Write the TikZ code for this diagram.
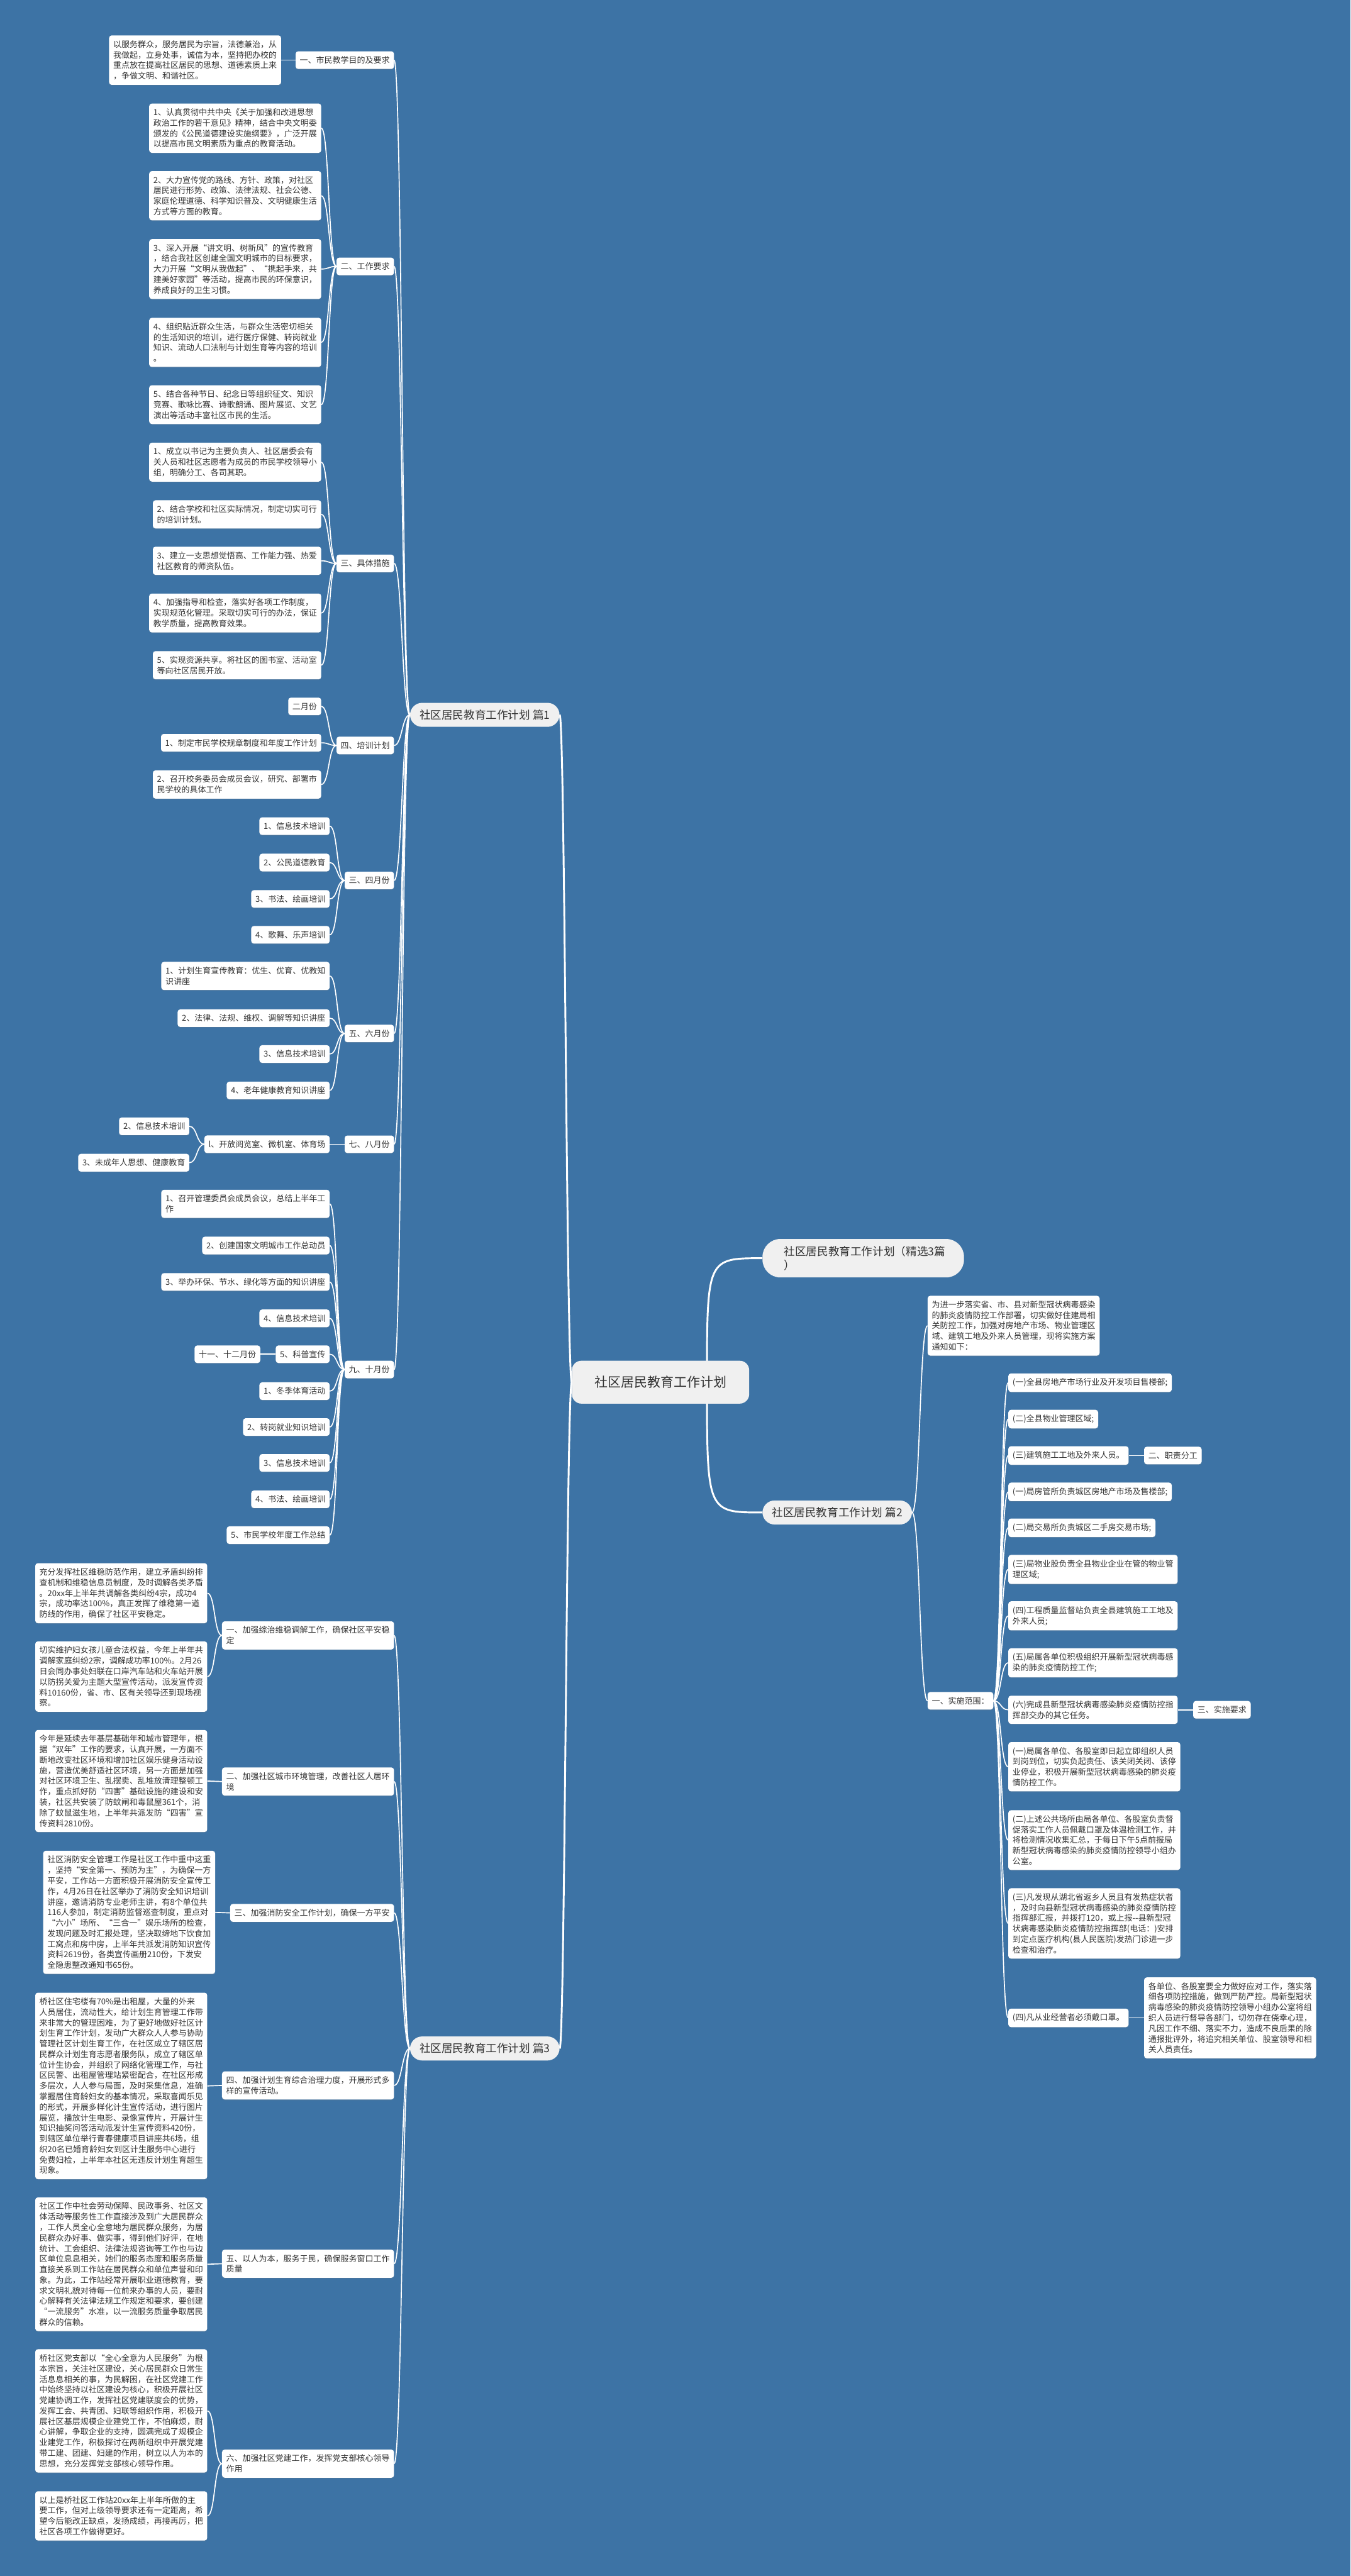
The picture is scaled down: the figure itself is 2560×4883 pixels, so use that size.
\documentclass[tikz,border=0pt]{standalone}
\usepackage{fontspec}
\usepackage{tikz}
\usetikzlibrary{positioning,shadows}
\newfontfamily\cjk{Noto Sans CJK SC}
\definecolor{azul}{HTML}{3D73A5}
\definecolor{cinza}{HTML}{F0F0F0}
\definecolor{texto}{HTML}{333333}
\newcommand{\fonte}{\cjk\fontsize{15.5}{20}\selectfont}
\newcommand{\fontetema}{\cjk\fontsize{21}{27}\selectfont}
\newcommand{\fontecentro}{\cjk\fontsize{25}{30}\selectfont}
\pgfdeclarelayer{fundo}
\pgfdeclarelayer{linhas}
\pgfsetlayers{fundo,linhas,main}
\tikzstyle{caixa}=[rectangle, rounded corners=5pt, fill=white, text=texto, font=\fonte, align=left, inner xsep=8pt, inner ysep=9.5pt, drop shadow={shadow xshift=0pt, shadow yshift=-1.5pt, opacity=0.2}]
\tikzstyle{tema}=[rectangle, rounded corners=23pt, fill=cinza, text=texto, font=\fontetema, align=left, inner xsep=18pt, inner ysep=13pt]
\tikzstyle{centro}=[rectangle, rounded corners=18pt, fill=cinza, text=texto, font=\fontecentro, inner xsep=43pt, inner ysep=29pt]
\tikzstyle{ligacao}=[draw=white, line width=2pt]
\tikzstyle{tronco}=[draw=white, line width=3.5pt]

\begin{document}
\begin{tikzpicture}[x=1pt, y=-1pt]
\useasboundingbox (0,0) rectangle (2560,4883);
\begin{pgfonlayer}{fundo}
\fill[azul] (0,0) rectangle (2560,4883);
\end{pgfonlayer}

% raiz e temas
\node[centro] (raiz) at (1252,2620) {社区居民教育工作计划};
\node[tema, anchor=west] (p1) at (777,1355) {社区居民教育工作计划 篇1};
\node[tema, anchor=west] (p3) at (777,3883) {社区居民教育工作计划 篇3};
\node[tema, anchor=west, text width=300pt, rounded corners=34pt, inner xsep=41pt] (pc) at (1445,2385) {社区居民教育工作计划（精选3篇\\）};
\node[tema, anchor=west] (p2) at (1445,2867) {社区居民教育工作计划 篇2};

%篇1
\node[caixa, anchor=east] (l1) at (747,114) {一、市民教学目的及要求};
\node[caixa, anchor=east] (a1) at (533,114) {以服务群众，服务居民为宗旨，法德兼治，从\\我做起，立身处事，诚信为本，坚持把办校的\\重点放在提高社区居民的思想、道德素质上来\\，争做文明、和谐社区。};

\node[caixa, anchor=east] (l2) at (747,505) {二、工作要求};
\node[caixa, anchor=east] (b1) at (609,243) {1、认真贯彻中共中央《关于加强和改进思想\\政治工作的若干意见》精神，结合中央文明委\\颁发的《公民道德建设实施纲要》，广泛开展\\以提高市民文明素质为重点的教育活动。};
\node[caixa, anchor=east] (b2) at (609,371) {2、大力宣传党的路线、方针、政策，对社区\\居民进行形势、政策、法律法规、社会公德、\\家庭伦理道德、科学知识普及、文明健康生活\\方式等方面的教育。};
\node[caixa, anchor=east] (b3) at (609,510) {3、深入开展“讲文明、树新风”的宣传教育\\，结合我社区创建全国文明城市的目标要求，\\大力开展“文明从我做起”、“携起手来，共\\建美好家园”等活动，提高市民的环保意识，\\养成良好的卫生习惯。};
\node[caixa, anchor=east] (b4) at (609,649) {4、组织贴近群众生活，与群众生活密切相关\\的生活知识的培训，进行医疗保健、转岗就业\\知识、流动人口法制与计划生育等内容的培训\\。};
\node[caixa, anchor=east] (b5) at (609,767) {5、结合各种节日、纪念日等组织征文、知识\\竞赛、歌咏比赛、诗歌朗诵、图片展览、文艺\\演出等活动丰富社区市民的生活。};

\node[caixa, anchor=east] (l3) at (747,1068) {三、具体措施};
\node[caixa, anchor=east] (c1) at (609,876) {1、成立以书记为主要负责人、社区居委会有\\关人员和社区志愿者为成员的市民学校领导小\\组，明确分工、各司其职。};
\node[caixa, anchor=east] (c2) at (609,975) {2、结合学校和社区实际情况，制定切实可行\\的培训计划。};
\node[caixa, anchor=east] (c3) at (609,1063) {3、建立一支思想觉悟高、工作能力强、热爱\\社区教育的师资队伍。};
\node[caixa, anchor=east] (c4) at (609,1162) {4、加强指导和检查，落实好各项工作制度，\\实现规范化管理。采取切实可行的办法，保证\\教学质量，提高教育效果。};
\node[caixa, anchor=east] (c5) at (609,1261) {5、实现资源共享。将社区的图书室、活动室\\等向社区居民开放。};

\node[caixa, anchor=east] (l4) at (747,1413) {四、培训计划};
\node[caixa, anchor=east] (d1) at (609,1339) {二月份};
\node[caixa, anchor=east] (d2) at (609,1408) {1、制定市民学校规章制度和年度工作计划};
\node[caixa, anchor=east] (d3) at (609,1487) {2、召开校务委员会成员会议，研究、部署市\\民学校的具体工作};

\node[caixa, anchor=east] (l5) at (747,1669) {三、四月份};
\node[caixa, anchor=east] (e1) at (625,1566) {1、信息技术培训};
\node[caixa, anchor=east] (e2) at (625,1635) {2、公民道德教育};
\node[caixa, anchor=east] (e3) at (625,1704) {3、书法、绘画培训};
\node[caixa, anchor=east] (e4) at (625,1772) {4、歌舞、乐声培训};

\node[caixa, anchor=east] (l6) at (747,1959) {五、六月份};
\node[caixa, anchor=east] (f1) at (625,1850) {1、计划生育宣传教育：优生、优育、优教知\\识讲座};
\node[caixa, anchor=east] (f2) at (625,1930) {2、法律、法规、维权、调解等知识讲座};
\node[caixa, anchor=east] (f3) at (625,1998) {3、信息技术培训};
\node[caixa, anchor=east] (f4) at (625,2067) {4、老年健康教育知识讲座};

\node[caixa, anchor=east] (l7) at (747,2169) {七、八月份};
\node[caixa, anchor=east] (g1) at (625,2169) {l、开放阅览室、微机室、体育场};
\node[caixa, anchor=east] (g2) at (359,2135) {2、信息技术培训};
\node[caixa, anchor=east] (g3) at (359,2204) {3、未成年人思想、健康教育};

\node[caixa, anchor=east] (l8) at (747,2596) {九、十月份};
\node[caixa, anchor=east] (h1) at (625,2282) {1、召开管理委员会成员会议，总结上半年工\\作};
\node[caixa, anchor=east] (h2) at (625,2361) {2、创建国家文明城市工作总动员};
\node[caixa, anchor=east] (h3) at (625,2430) {3、举办环保、节水、绿化等方面的知识讲座};
\node[caixa, anchor=east] (h4) at (625,2499) {4、信息技术培训};
\node[caixa, anchor=east] (h5) at (625,2567) {5、科普宣传};
\node[caixa, left=29pt of h5] (h11) {十一、十二月份};
\node[caixa, anchor=east] (h6) at (625,2637) {1、冬季体育活动};
\node[caixa, anchor=east] (h7) at (625,2705) {2、转岗就业知识培训};
\node[caixa, anchor=east] (h8) at (625,2773) {3、信息技术培训};
\node[caixa, anchor=east] (h9) at (625,2842) {4、书法、绘画培训};
\node[caixa, anchor=east] (h10) at (625,2910) {5、市民学校年度工作总结};

% 篇2
\node[caixa, anchor=west] (r0) at (1758,2513) {为进一步落实省、市、县对新型冠状病毒感染\\的肺炎疫情防控工作部署，切实做好住建局相\\关防控工作，加强对房地产市场、物业管理区\\域、建筑工地及外来人员管理，现将实施方案\\通知如下：};
\node[caixa, anchor=west] (s1) at (1758,3224) {一、实施范围：};
\node[caixa, anchor=west] (k1) at (1911,2621) {(一)全县房地产市场行业及开发项目售楼部;};
\node[caixa, anchor=west] (k2) at (1911,2690) {(二)全县物业管理区域;};
\node[caixa, anchor=west] (k3) at (1911,2759) {(三)建筑施工工地及外来人员。};
\node[caixa, right=29pt of k3] (kx3) {二、职责分工};
\node[caixa, anchor=west] (k4) at (1911,2828) {(一)局房管所负责城区房地产市场及售楼部;};
\node[caixa, anchor=west] (k5) at (1911,2896) {(二)局交易所负责城区二手房交易市场;};
\node[caixa, anchor=west] (k6) at (1911,2975) {(三)局物业股负责全县物业企业在管的物业管\\理区域;};
\node[caixa, anchor=west] (k7) at (1911,3063) {(四)工程质量监督站负责全县建筑施工工地及\\外来人员;};
\node[caixa, anchor=west] (k8) at (1911,3152) {(五)局属各单位积极组织开展新型冠状病毒感\\染的肺炎疫情防控工作;};
\node[caixa, anchor=west] (k9) at (1911,3241) {(六)完成县新型冠状病毒感染肺炎疫情防控指\\挥部交办的其它任务。};
\node[caixa, right=29pt of k9] (kx9) {三、实施要求};
\node[caixa, anchor=west] (k10) at (1911,3349) {(一)局属各单位、各股室即日起立即组织人员\\到岗到位，切实负起责任、该关闭关闭、该停\\业停业，积极开展新型冠状病毒感染的肺炎疫\\情防控工作。};
\node[caixa, anchor=west] (k11) at (1911,3488) {(二)上述公共场所由局各单位、各股室负责督\\促落实工作人员佩戴口罩及体温检测工作，并\\将检测情况收集汇总，于每日下午5点前报局\\新型冠状病毒感染的肺炎疫情防控领导小组办\\公室。};
\node[caixa, anchor=west] (k12) at (1911,3646) {(三)凡发现从湖北省返乡人员且有发热症状者\\，及时向县新型冠状病毒感染的肺炎疫情防控\\指挥部汇报，并拨打120，或上报-{}-县新型冠\\状病毒感染肺炎疫情防控指挥部(电话：)安排\\到定点医疗机构(县人民医院)发热门诊进一步\\检查和治疗。};
\node[caixa, anchor=west] (k13) at (1911,3825) {(四)凡从业经营者必须戴口罩。};
\node[caixa, right=29pt of k13] (kx13) {各单位、各股室要全力做好应对工作，落实落\\细各项防控措施，做到严防严控。局新型冠状\\病毒感染的肺炎疫情防控领导小组办公室将组\\织人员进行督导各部门，切勿存在侥幸心理，\\凡因工作不细、落实不力，造成不良后果的除\\通报批评外，将追究相关单位、股室领导和相\\关人员责任。};

% 篇3
\node[caixa, anchor=east] (m1) at (747,3100) {一、加强综治维稳调解工作，确保社区平安稳\\定};
\node[caixa, anchor=east] (m1a) at (393,3020) {充分发挥社区维稳防范作用，建立矛盾纠纷排\\查机制和维稳信息员制度，及时调解各类矛盾\\。20xx年上半年共调解各类纠纷4宗，成功4\\宗，成功率达100\%，真正发挥了维稳第一道\\防线的作用，确保了社区平安稳定。};
\node[caixa, anchor=east] (m1b) at (393,3178) {切实维护妇女孩儿童合法权益，今年上半年共\\调解家庭纠纷2宗，调解成功率100\%。2月26\\日会同办事处妇联在口岸汽车站和火车站开展\\以防拐关爱为主题大型宣传活动，派发宣传资\\料10160份，省、市、区有关领导还到现场视\\察。};

\node[caixa, anchor=east] (m2) at (747,3377) {二、加强社区城市环境管理，改善社区人居环\\境};
\node[caixa, anchor=east] (m2a) at (393,3376) {今年是延续去年基层基础年和城市管理年，根\\据“双年”工作的要求，认真开展，一方面不\\断地改变社区环境和增加社区娱乐健身活动设\\施，营造优美舒适社区环境，另一方面是加强\\对社区环境卫生、乱摆卖、乱堆放清理整顿工\\作，重点抓好防“四害”基础设施的建设和安\\装，社区共安装了防蚊闸和毒鼠屋361个，消\\除了蚊鼠滋生地，上半年共派发防“四害”宣\\传资料2810份。};

\node[caixa, anchor=east] (m3) at (747,3626) {三、加强消防安全工作计划，确保一方平安};
\node[caixa, anchor=east] (m3a) at (408,3625) {社区消防安全管理工作是社区工作中重中这重\\，坚持“安全第一、预防为主”，为确保一方\\平安，工作站一方面积极开展消防安全宣传工\\作，4月26日在社区举办了消防安全知识培训\\讲座，邀请消防专业老师主讲，有8个单位共\\116人参加，制定消防监督巡查制度，重点对\\“六小”场所、“三合一”娱乐场所的检查，\\发现问题及时汇报处理，坚决取缔地下饮食加\\工窝点和房中房，上半年共派发消防知识宣传\\资料2619份，各类宣传画册210份，下发安\\全隐患整改通知书65份。};

\node[caixa, anchor=east] (m4) at (747,3953) {四、加强计划生育综合治理力度，开展形式多\\样的宣传活动。};
\node[caixa, anchor=east] (m4a) at (393,3954) {桥社区住宅楼有70\%是出租屋，大量的外来\\人员居住，流动性大，给计划生育管理工作带\\来非常大的管理困难，为了更好地做好社区计\\划生育工作计划，发动广大群众人人参与协助\\管理社区计划生育工作，在社区成立了辖区居\\民群众计划生育志愿者服务队，成立了辖区单\\位计生协会，并组织了网络化管理工作，与社\\区民警、出租屋管理站紧密配合，在社区形成\\多层次，人人参与局面，及时采集信息，准确\\掌握居住育龄妇女的基本情况，采取喜闻乐见\\的形式，开展多样化计生宣传活动，进行图片\\展览，播放计生电影、录像宣传片，开展计生\\知识抽奖问答活动派发计生宣传资料420份，\\到辖区单位举行青春健康项目讲座共6场，组\\织20名已婚育龄妇女到区计生服务中心进行\\免费妇检，上半年本社区无违反计划生育超生\\现象。};

\node[caixa, anchor=east] (m5) at (747,4291) {五、以人为本，服务于民，确保服务窗口工作\\质量};
\node[caixa, anchor=east] (m5a) at (393,4292) {社区工作中社会劳动保障、民政事务、社区文\\体活动等服务性工作直接涉及到广大居民群众\\，工作人员全心全意地为居民群众服务，为居\\民群众办好事、做实事，得到他们好评，在地\\统计、工会组织、法律法规咨询等工作也与边\\区单位息息相关，她们的服务态度和服务质量\\直接关系到工作站在居民群众和单位声誉和印\\象。为此，工作站经常开展职业道德教育，要\\求文明礼貌对待每一位前来办事的人员，要耐\\心解释有关法律法规工作规定和要求，要创建\\“一流服务”水准，以一流服务质量争取居民\\群众的信赖。};

\node[caixa, anchor=east] (m6) at (747,4670) {六、加强社区党建工作，发挥党支部核心领导\\作用};
\node[caixa, anchor=east] (m6a) at (393,4570) {桥社区党支部以“全心全意为人民服务”为根\\本宗旨，关注社区建设，关心居民群众日常生\\活息息相关的事，为民解困，在社区党建工作\\中始终坚持以社区建设为核心，积极开展社区\\党建协调工作，发挥社区党建联度会的优势，\\发挥工会、共青团、妇联等组织作用，积极开\\展社区基层规模企业建党工作，不怕麻烦，耐\\心讲解，争取企业的支持，圆满完成了规模企\\业建党工作，积极探讨在两新组织中开展党建\\带工建、团建、妇建的作用，树立以人为本的\\思想，充分发挥党支部核心领导作用。};
\node[caixa, anchor=east] (m6b) at (393,4769) {以上是桥社区工作站20xx年上半年所做的主\\要工作，但对上级领导要求还有一定距离，希\\望今后能改正缺点，发扬成绩，再接再厉，把\\社区各项工作做得更好。};

\begin{pgfonlayer}{linhas}
% troncos
\path[tronco] (raiz.west) .. controls +(-10,0) and +(10,0) .. (p1.east);
\path[tronco] (raiz.west) .. controls +(-10,0) and +(10,0) .. (p3.east);
\path[tronco] ([xshift=88pt]raiz.center) .. controls +(0,-235) .. (pc.west);
\path[tronco] ([xshift=88pt]raiz.center) .. controls +(0,247) .. (p2.west);
% lado esquerdo
\foreach \n in {l1,l2,l3,l4,l5,l6,l7,l8}
  \path[ligacao] (p1.west) .. controls +(-15,0) and +(15,0) .. (\n.east);
\path[ligacao] (l1.west) -- (a1.east);
\foreach \n in {b1,b2,b3,b4,b5}
  \path[ligacao] (l2.west) .. controls +(-15,0) and +(15,0) .. (\n.east);
\foreach \n in {c1,c2,c3,c4,c5}
  \path[ligacao] (l3.west) .. controls +(-15,0) and +(15,0) .. (\n.east);
\foreach \n in {d1,d2,d3}
  \path[ligacao] (l4.west) .. controls +(-15,0) and +(15,0) .. (\n.east);
\foreach \n in {e1,e2,e3,e4}
  \path[ligacao] (l5.west) .. controls +(-15,0) and +(15,0) .. (\n.east);
\foreach \n in {f1,f2,f3,f4}
  \path[ligacao] (l6.west) .. controls +(-15,0) and +(15,0) .. (\n.east);
\path[ligacao] (l7.west) -- (g1.east);
\foreach \n in {g2,g3}
  \path[ligacao] (g1.west) .. controls +(-15,0) and +(15,0) .. (\n.east);
\foreach \n in {h1,h2,h3,h4,h5,h6,h7,h8,h9,h10}
  \path[ligacao] (l8.west) .. controls +(-15,0) and +(15,0) .. (\n.east);
\path[ligacao] (h5.west) -- (h11.east);
\foreach \n in {m1,m2,m3,m4,m5,m6}
  \path[ligacao] (p3.west) .. controls +(-15,0) and +(15,0) .. (\n.east);
\foreach \n in {m1a,m1b}
  \path[ligacao] (m1.west) .. controls +(-15,0) and +(15,0) .. (\n.east);
\path[ligacao] (m2.west) -- (m2a.east);
\path[ligacao] (m3.west) -- (m3a.east);
\path[ligacao] (m4.west) -- (m4a.east);
\path[ligacao] (m5.west) -- (m5a.east);
\foreach \n in {m6a,m6b}
  \path[ligacao] (m6.west) .. controls +(-15,0) and +(15,0) .. (\n.east);
% lado direito
\foreach \n in {r0,s1}
  \path[ligacao] (p2.east) .. controls +(15,0) and +(-15,0) .. (\n.west);
\foreach \n in {k1,k2,k3,k4,k5,k6,k7,k8,k9,k10,k11,k12,k13}
  \path[ligacao] (s1.east) .. controls +(15,0) and +(-15,0) .. (\n.west);
\path[ligacao] (k3.east) -- (kx3.west);
\path[ligacao] (k9.east) -- (kx9.west);
\path[ligacao] (k13.east) -- (kx13.west);
\end{pgfonlayer}
\end{tikzpicture}
\end{document}
